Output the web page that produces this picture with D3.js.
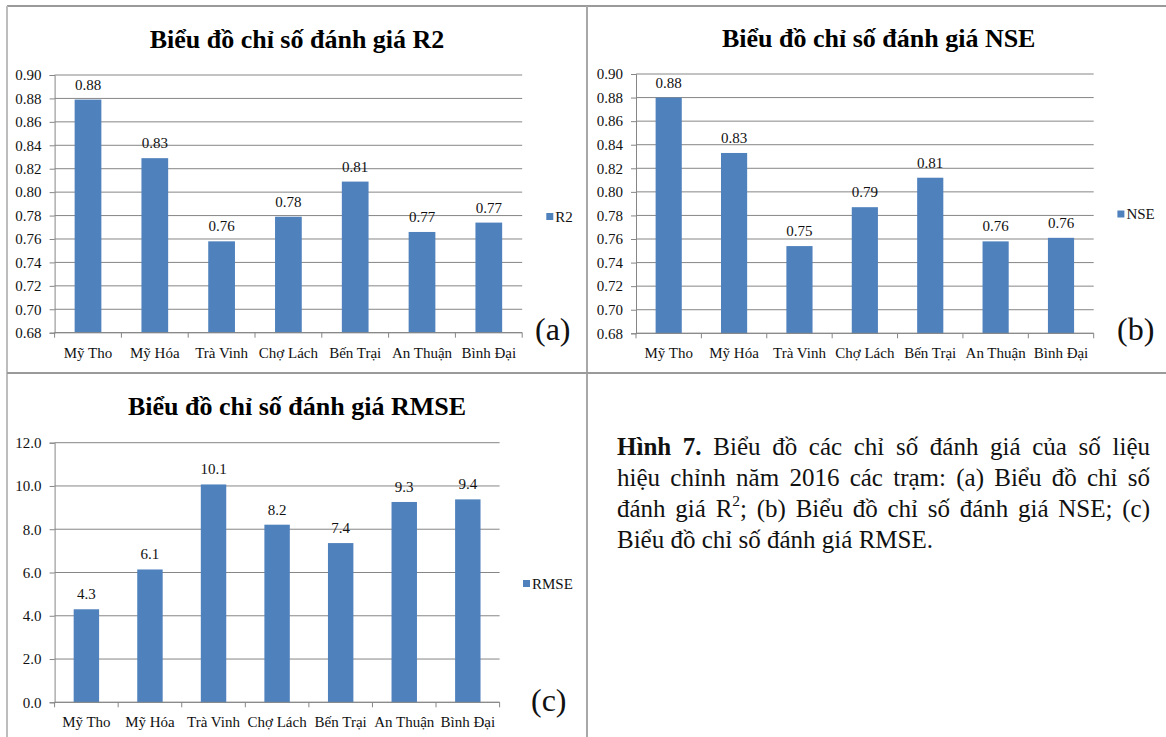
<!DOCTYPE html>
<html lang="vi">
<head>
<meta charset="utf-8">
<script src="https://cdn.jsdelivr.net/npm/d3@7"></script>
<style>
  html, body { margin: 0; padding: 0; background: #fff; }
  #wrap { position: relative; width: 1166px; height: 737px; overflow: hidden; }
  svg { position: absolute; left: 0; top: 0; }
  svg text { font-family: "Liberation Serif", "Times New Roman", serif; }
  #caption {
    position: absolute; left: 617px; top: 431px; width: 533px;
    font-family: "Liberation Serif", "Times New Roman", serif;
    font-size: 25px; line-height: 31px; color: #111;
  }
  #caption .ln { text-align: justify; text-align-last: justify; }
  #caption .ln.last { text-align: left; text-align-last: left; }
  #caption sup { font-size: 0.62em; line-height: 0; vertical-align: 0.7em; }
</style>
</head>
<body>
<div id="wrap">
  <svg id="fig" width="1166" height="737"></svg>
  <div id="caption">
    <div class="ln"><b>Hình 7.</b> Biểu đồ các chỉ số đánh giá của số liệu</div>
    <div class="ln">hiệu chỉnh năm 2016 các trạm: (a) Biểu đồ chỉ số</div>
    <div class="ln">đánh giá R<sup>2</sup>; (b) Biểu đồ chỉ số đánh giá NSE; (c)</div>
    <div class="ln last">Biểu đồ chỉ số đánh giá RMSE.</div>
  </div>
</div>
<script>
// Stations (x categories)
const stations = ["Mỹ Tho", "Mỹ Hóa", "Trà Vinh", "Chợ Lách", "Bến Trại", "An Thuận", "Bình Đại"];

// Evaluation indices per station, 2016 calibration
const r2Values   = [0.879, 0.829, 0.758, 0.779, 0.809, 0.766, 0.774];
const nseValues  = [0.880, 0.833, 0.754, 0.787, 0.812, 0.758, 0.761];
const rmseValues = [4.30, 6.14, 10.07, 8.21, 7.36, 9.26, 9.38];

// Axis ticks
const ratioTicks = [0.68, 0.70, 0.72, 0.74, 0.76, 0.78, 0.80, 0.82, 0.84, 0.86, 0.88, 0.90];
const rmseTicks  = [0, 2, 4, 6, 8, 10, 12];

const FONT = '"Liberation Serif", "Times New Roman", serif';
const BAR = "#4F81BD";
const GRID = "#868686";

const svg = d3.select("#fig");

// Cell borders of the figure table
const borders = svg.append("g").attr("fill", "none");
borders.append("line").attr("x1", 7).attr("x2", 1166).attr("y1", 6).attr("y2", 6)
  .attr("stroke", "#9a9a9a").attr("stroke-width", 2);
borders.append("line").attr("x1", 7).attr("x2", 7).attr("y1", 6).attr("y2", 737)
  .attr("stroke", "#bdbdbd").attr("stroke-width", 2);
borders.append("line").attr("x1", 587).attr("x2", 587).attr("y1", 6).attr("y2", 737)
  .attr("stroke", "#a8a8a8").attr("stroke-width", 2);
borders.append("line").attr("x1", 7).attr("x2", 1166).attr("y1", 373).attr("y2", 373)
  .attr("stroke", "#9a9a9a").attr("stroke-width", 2);

function drawPanel(cfg) {
  const g = svg.append("g");

  const x = d3.scaleBand()
    .domain(stations)
    .range([cfg.left, cfg.right])
    .paddingInner(0.6)
    .paddingOuter(0.3);

  const y = d3.scaleLinear()
    .domain(cfg.domain)
    .range([cfg.bottom, cfg.top]);

  // Horizontal gridlines
  g.append("g").selectAll("line")
    .data(cfg.ticks)
    .join("line")
    .attr("x1", cfg.left).attr("x2", cfg.right)
    .attr("y1", d => y(d)).attr("y2", d => y(d))
    .attr("stroke", GRID).attr("stroke-width", 1);

  // Y axis
  const yAxis = g.append("g")
    .attr("transform", `translate(${cfg.left},0)`)
    .call(d3.axisLeft(y).tickValues(cfg.ticks).tickFormat(cfg.tickFormat)
      .tickSize(5).tickPadding(8));
  yAxis.attr("font-family", null);
  yAxis.select(".domain").attr("stroke", GRID);
  yAxis.selectAll(".tick line").attr("stroke", GRID);
  yAxis.selectAll("text")
    .style("font-family", FONT).attr("font-size", 15).attr("fill", "#111");

  // Bars
  g.append("g").selectAll("rect")
    .data(cfg.values)
    .join("rect")
    .attr("x", (d, i) => x(stations[i]))
    .attr("width", x.bandwidth())
    .attr("y", d => y(d))
    .attr("height", d => cfg.bottom - y(d))
    .attr("fill", BAR);

  // X axis: line, boundary ticks and category labels
  const step = x.step();
  const edge0 = x(stations[0]) - step * x.paddingInner() / 2;
  g.append("line")
    .attr("x1", cfg.left).attr("x2", cfg.right)
    .attr("y1", cfg.bottom).attr("y2", cfg.bottom)
    .attr("stroke", GRID);
  g.append("g").selectAll("line")
    .data(d3.range(stations.length + 1))
    .join("line")
    .attr("x1", i => edge0 + i * step).attr("x2", i => edge0 + i * step)
    .attr("y1", cfg.bottom).attr("y2", cfg.bottom + 5)
    .attr("stroke", GRID);
  g.append("g").selectAll("text")
    .data(stations)
    .join("text")
    .attr("x", d => x(d) + x.bandwidth() / 2)
    .attr("y", cfg.bottom + 25)
    .attr("text-anchor", "middle")
    .style("font-family", FONT).attr("font-size", 15).attr("fill", "#111")
    .text(d => d);

  // Value labels
  g.append("g").selectAll("text")
    .data(cfg.values)
    .join("text")
    .attr("x", (d, i) => x(stations[i]) + x.bandwidth() / 2)
    .attr("y", d => y(d) - 10)
    .attr("text-anchor", "middle")
    .style("font-family", FONT).attr("font-size", 15).attr("fill", "#111")
    .text(d => cfg.labelFormat(d));

  // Title
  g.append("text")
    .attr("x", cfg.titleX).attr("y", cfg.titleY)
    .attr("text-anchor", "middle")
    .style("font-family", FONT).attr("font-size", 26).attr("font-weight", "bold")
    .attr("fill", "#000")
    .text(cfg.title);

  // Legend
  g.append("rect")
    .attr("x", cfg.legendX).attr("y", cfg.legendY)
    .attr("width", 7).attr("height", 7).attr("fill", BAR);
  g.append("text")
    .attr("x", cfg.legendX + 9).attr("y", cfg.legendY + 8.5)
    .style("font-family", FONT).attr("font-size", 15).attr("fill", "#111")
    .text(cfg.series);

  // Panel letter
  g.append("text")
    .attr("x", cfg.letterX).attr("y", cfg.letterY)
    .style("font-family", FONT).attr("font-size", 32).attr("fill", "#111")
    .text(cfg.letter);
}

drawPanel({
  values: r2Values, series: "R2", title: "Biểu đồ chỉ số đánh giá R2",
  domain: [0.68, 0.90], ticks: ratioTicks,
  tickFormat: d3.format(".2f"), labelFormat: d3.format(".2f"),
  left: 54.6, right: 522.2, top: 75, bottom: 332.7,
  titleX: 297, titleY: 47.5,
  legendX: 546.3, legendY: 213,
  letter: "(a)", letterX: 535, letterY: 340
});

drawPanel({
  values: nseValues, series: "NSE", title: "Biểu đồ chỉ số đánh giá NSE",
  domain: [0.68, 0.90], ticks: ratioTicks,
  tickFormat: d3.format(".2f"), labelFormat: d3.format(".2f"),
  left: 636, right: 1093.7, top: 74, bottom: 333.3,
  titleX: 878.7, titleY: 46.5,
  legendX: 1117.4, legendY: 210.5,
  letter: "(b)", letterX: 1117, letterY: 340
});

drawPanel({
  values: rmseValues, series: "RMSE", title: "Biểu đồ chỉ số đánh giá RMSE",
  domain: [0, 12], ticks: rmseTicks,
  tickFormat: d3.format(".1f"), labelFormat: d3.format(".1f"),
  left: 54.6, right: 499.6, top: 442.7, bottom: 702.3,
  titleX: 297, titleY: 415,
  legendX: 523, legendY: 580,
  letter: "(c)", letterX: 531, letterY: 711
});
</script>
</body>
</html>
